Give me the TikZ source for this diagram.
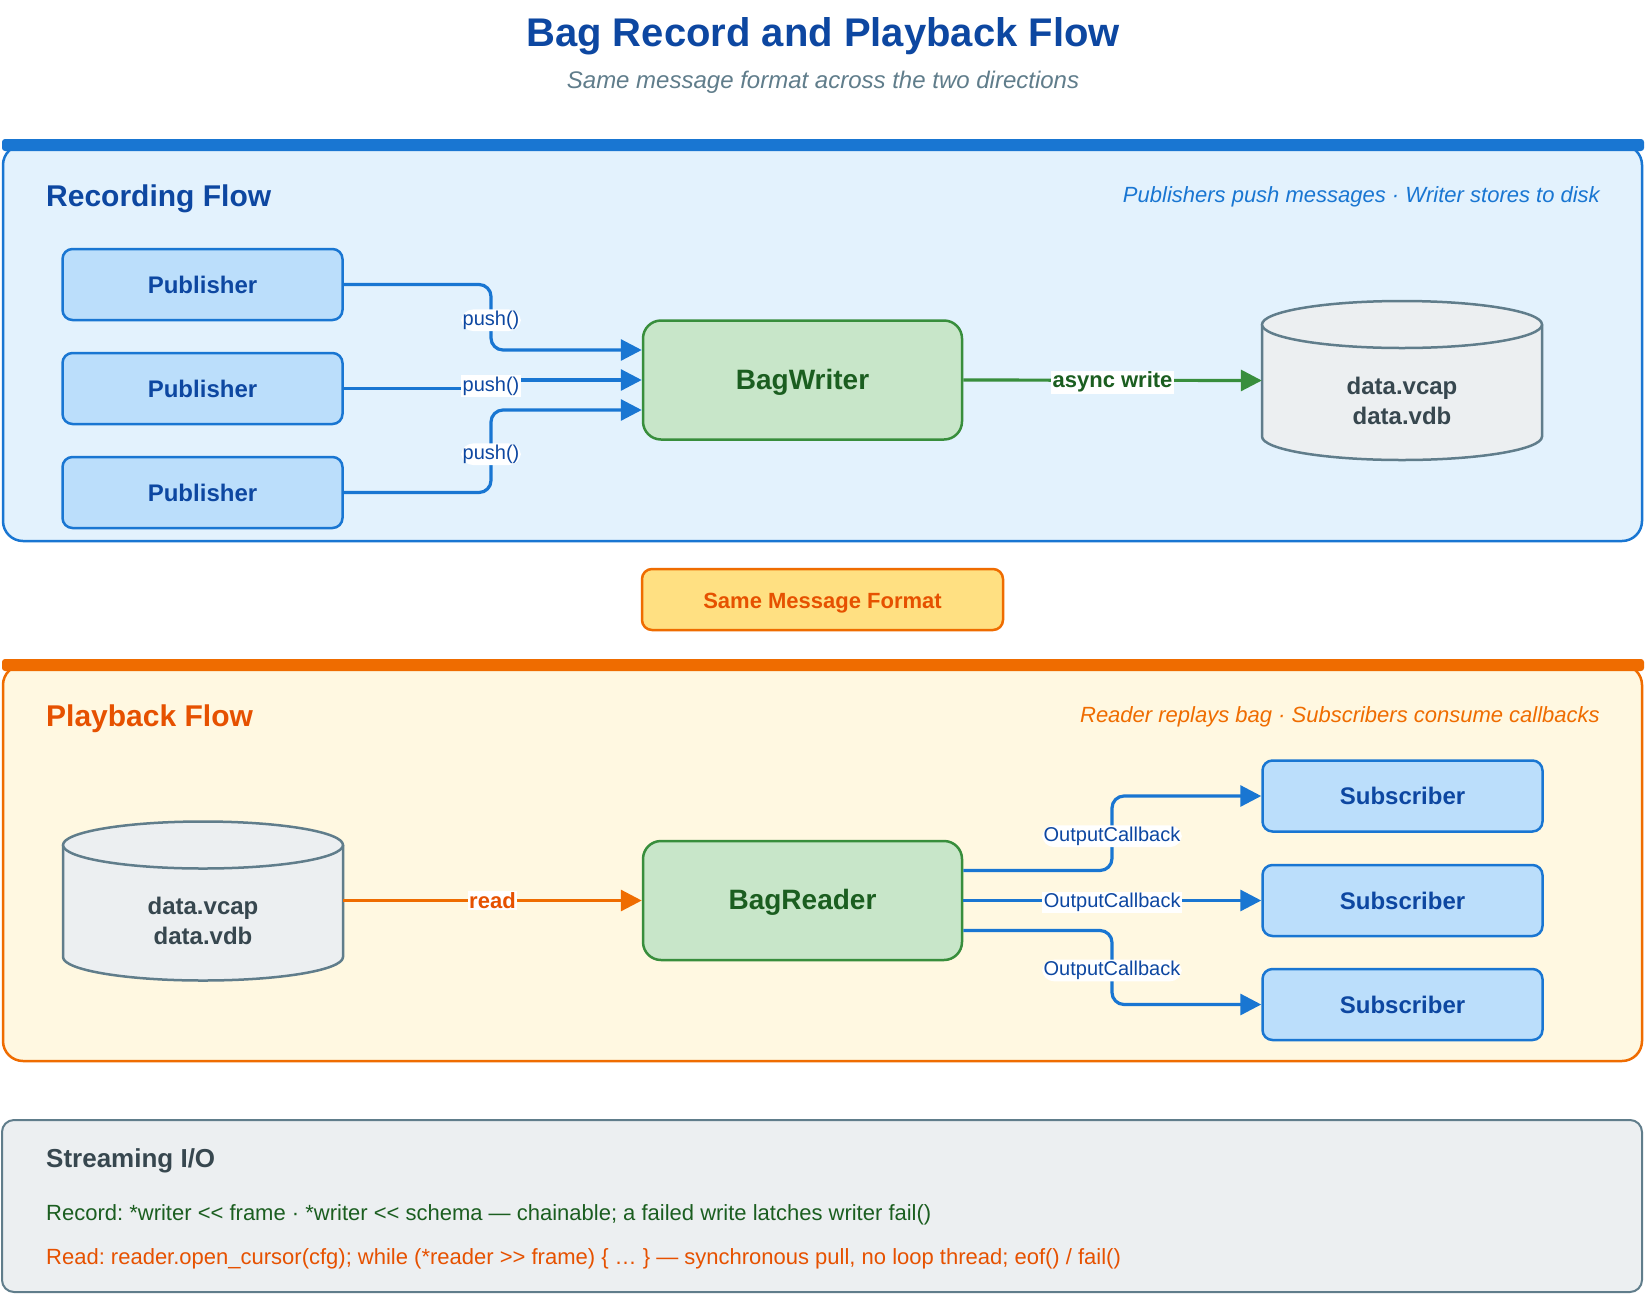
\documentclass[tikz,border=0pt]{standalone}
\usepackage{fontspec}
\setmainfont{Liberation Sans}
\usetikzlibrary{arrows.meta,calc}
\definecolor{titleblue}{HTML}{0D47A1}
\definecolor{subgray}{HTML}{607D8B}
\definecolor{recline}{HTML}{1976D2}
\definecolor{recfill}{HTML}{E3F2FD}
\definecolor{pubfill}{HTML}{BBDEFB}
\definecolor{greenfill}{HTML}{C8E6C9}
\definecolor{greenline}{HTML}{388E3C}
\definecolor{darkgreen}{HTML}{1B5E20}
\definecolor{cylfill}{HTML}{ECEFF1}
\definecolor{cylline}{HTML}{607D8B}
\definecolor{cyltext}{HTML}{37474F}
\definecolor{orangeline}{HTML}{EF6C00}
\definecolor{darkorange}{HTML}{E65100}
\definecolor{pbfill}{HTML}{FFF8E1}
\definecolor{fmtfill}{HTML}{FFE082}
\newcommand\myfs[2]{\fontsize{#1pt}{#2pt}\selectfont}
\frenchspacing
\begin{document}
\begin{tikzpicture}[x=1pt,y=-1pt,
  pubbox/.style={rectangle, rounded corners=10, draw=recline, fill=pubfill, line width=2.5pt,
    minimum width=280, minimum height=71, inner sep=0pt, font=\myfs{24}{28}\bfseries, text=titleblue},
  corebox/.style={rectangle, rounded corners=18, draw=greenline, fill=greenfill, line width=2.5pt,
    minimum width=319, minimum height=119, inner sep=0pt, font=\myfs{28}{32}\bfseries, text=darkgreen,
    text height=18.6pt, text depth=0pt},
  cylbody/.style={fill=cylfill, draw=cylline, line width=2.5pt},
  cyltxt/.style={align=center, font=\myfs{24}{30}\bfseries, text=cyltext},
  arr/.style={line width=3.2pt, -{Triangle[length=21pt,width=21pt]}},
  lbl/.style={fill=white, inner sep=1.5pt, font=\myfs{20}{24}, text=titleblue},
  paneltitle/.style={anchor=west, inner sep=0pt, font=\myfs{30}{36}\bfseries},
  panelsub/.style={anchor=east, inner sep=0pt, font=\myfs{22}{26}\itshape},
  bodytxt/.style={anchor=west, inner sep=0pt, font=\myfs{22}{26}}
]
\useasboundingbox (0,0) rectangle (1646,1296);
\fill[white] (0,0) rectangle (1646,1296);

% title
\node[font=\myfs{40}{48}\bfseries, text=titleblue] (title) at (823,36) {Bag Record and Playback Flow};
\node[font=\myfs{24}{28}\itshape, text=subgray] (subtitle) at (823,82) {Same message format across the two directions};

% ---------------- Recording panel
\draw[rounded corners=20, fill=recfill, draw=recline, line width=2.5pt] (3,145) rectangle (1642,541);
\fill[recline, rounded corners=3] (2,139) rectangle (1644,151);
\node[paneltitle, text=titleblue] (rectitle) at (46,199) {Recording Flow};
\node[panelsub, text=recline] (recsub) at (1600,197) {Publishers push messages · Writer stores to disk};

\node[pubbox] (p1) at (202.5,284.5) {Publisher};
\node[pubbox] (p2) at (202.5,388.5) {Publisher};
\node[pubbox] (p3) at (202.5,492.5) {Publisher};
\node[corebox] (bw) at (802.5,380) {BagWriter};

% cylinder 1
\path[cylbody] (1262,324.5) -- (1262,436.5) arc[start angle=180, end angle=0, x radius=140, y radius=23.5] -- (1542,324.5);
\draw[cylbody] (1402,324.5) ellipse [x radius=140, y radius=23.5];
\node[minimum width=280, minimum height=159, inner sep=0pt] (cyl1) at (1402,380.5) {};
\node[cyltxt] (cyl1t) at (1402,401) {data.vcap\\data.vdb};

\coordinate (mx) at (491,0);
\coordinate (e1) at ($(bw.west)+(0,-30)$);
\coordinate (e3) at ($(bw.west)+(0,30)$);
\draw[arr, recline, rounded corners=12] (p1.east) -- (p1.east -| mx) |- (e1) node[pos=0.25, lbl, yshift=-3pt] {push()};
\draw[arr, recline] (p2.east) -- (p2.east -| mx) |- (bw.west) node[pos=0.25, lbl, yshift=-2pt] {push()};
\draw[arr, recline, rounded corners=12] (p3.east) -- (p3.east -| mx) |- (e3) node[pos=0.25, lbl, yshift=-3pt] {push()};
\draw[arr, greenline] (bw.east) -- (cyl1.west) node[midway, lbl, text=darkgreen, font=\myfs{22}{26}\bfseries, yshift=-2pt] {async write};

% ---------------- middle
\node[rectangle, rounded corners=10, draw=orangeline, fill=fmtfill, line width=2.5pt, minimum width=361, minimum height=61,
  font=\myfs{22}{26}\bfseries, text=darkorange, text height=17.4pt, text depth=0pt] (fmt) at (822.5,599.5) {Same Message Format};

% ---------------- Playback panel
\draw[rounded corners=20, fill=pbfill, draw=orangeline, line width=2.5pt] (3,665) rectangle (1642,1061);
\fill[orangeline, rounded corners=3] (2,659) rectangle (1644,671);
\node[paneltitle, text=darkorange] (pbtitle) at (46,719) {Playback Flow};
\node[panelsub, text=orangeline] (pbsub) at (1600,717) {Reader replays bag · Subscribers consume callbacks};

% cylinder 2
\path[cylbody] (63,845) -- (63,957) arc[start angle=180, end angle=0, x radius=140, y radius=23.5] -- (343,845);
\draw[cylbody] (203,845) ellipse [x radius=140, y radius=23.5];
\node[minimum width=280, minimum height=159, inner sep=0pt] (cyl2) at (203,900.5) {};
\node[cyltxt] (cyl2t) at (203,921) {data.vcap\\data.vdb};

\node[corebox] (br) at (802.5,900.5) {BagReader};
\node[pubbox] (s1) at (1402.5,796) {Subscriber};
\node[pubbox] (s2) at (1402.5,900.5) {Subscriber};
\node[pubbox] (s3) at (1402.5,1004.5) {Subscriber};

\draw[arr, orangeline] (cyl2.east) -- (br.west) node[midway, lbl, text=darkorange, font=\myfs{22}{26}\bfseries] {read};

\coordinate (mx2) at (1112,0);
\coordinate (r1) at ($(br.east)+(0,-30)$);
\coordinate (r3) at ($(br.east)+(0,30)$);
\draw[arr, recline, rounded corners=12] (r1) -- (r1 -| mx2) |- (s1.west) node[pos=0.25, lbl, yshift=-3pt] {OutputCallback};
\draw[arr, recline] (br.east) -- (s2.west) node[midway, lbl, yshift=-2pt] {OutputCallback};
\draw[arr, recline, rounded corners=12] (r3) -- (r3 -| mx2) |- (s3.west) node[pos=0.25, lbl, yshift=-3pt] {OutputCallback};

% ---------------- Streaming I/O box
\draw[rounded corners=12, fill=cylfill, draw=cylline, line width=2pt] (2,1120) rectangle (1642,1292);
\node[bodytxt, font=\myfs{26}{30}\bfseries, text=cyltext] (sio) at (46,1161) {Streaming I/O};
\node[bodytxt, text=darkgreen] (recline) at (46,1215)
  {Record: *writer <\kern0pt< frame · *writer <\kern0pt< schema — chainable; a failed write latches writer fail()};
\node[bodytxt, text=darkorange] (readline) at (46,1259)
  {Read: reader.open\_cursor(cfg); while (*reader >\kern0pt> frame) \{ … \} — synchronous pull, no loop thread; eof() / fail()};
\end{tikzpicture}
\end{document}
